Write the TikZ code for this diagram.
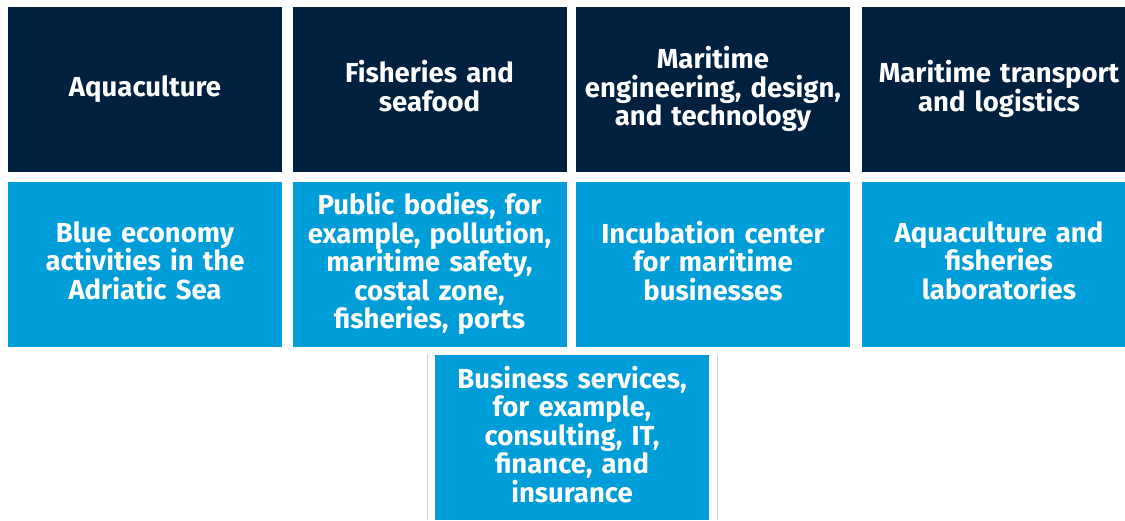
\documentclass[tikz,border=0pt]{standalone}
\usepackage{fontspec}
\setmainfont{Fira Sans}
\definecolor{navy}{RGB}{0,32,64}
\definecolor{sea}{RGB}{0,158,217}
\begin{document}
\begin{tikzpicture}[x=1pt,y=-1pt,
	box/.style={minimum width=274pt,minimum height=165pt,inner sep=0pt,text width=266pt,align=center,text=white,font=\bfseries\fontsize{27.5}{28.5}\selectfont,execute at end node={\rule[-7pt]{0pt}{0pt}}},
	sector/.style={box,fill=navy},
	support/.style={box,fill=sea}]
	\useasboundingbox (0,0) rectangle (1125,520);
	\node[sector] (aqua) at (145,89.5) {Aquaculture};
	\node[sector] (fish) at (429.5,89.5) {Fisheries and\\seafood};
	\node[sector] (eng) at (713,89.5) {Maritime\\engineering, design,\\and technology};
	\node[sector] (trans) at (999,89.5) {Maritime transport\\and logistics};
	\node[support] (blue) at (145,264) {Blue economy\\activities in the\\Adriatic Sea};
	\node[support] (public) at (429.5,264) {Public bodies, for\\example, pollution,\\maritime safety,\\costal zone,\\fisheries, ports};
	\node[support] (incub) at (713,264) {Incubation center\\for maritime\\businesses};
	\node[support] (labs) at (999,264) {Aquaculture and\\fisheries\\laboratories};
	\node[support] (services) at (572,437.5) {Business services,\\for example,\\consulting, IT,\\finance, and\\insurance};
	\draw[black!20,line width=0.6pt] (427,355) -- (427,520) (717,355) -- (717,520);
\end{tikzpicture}
\end{document}
